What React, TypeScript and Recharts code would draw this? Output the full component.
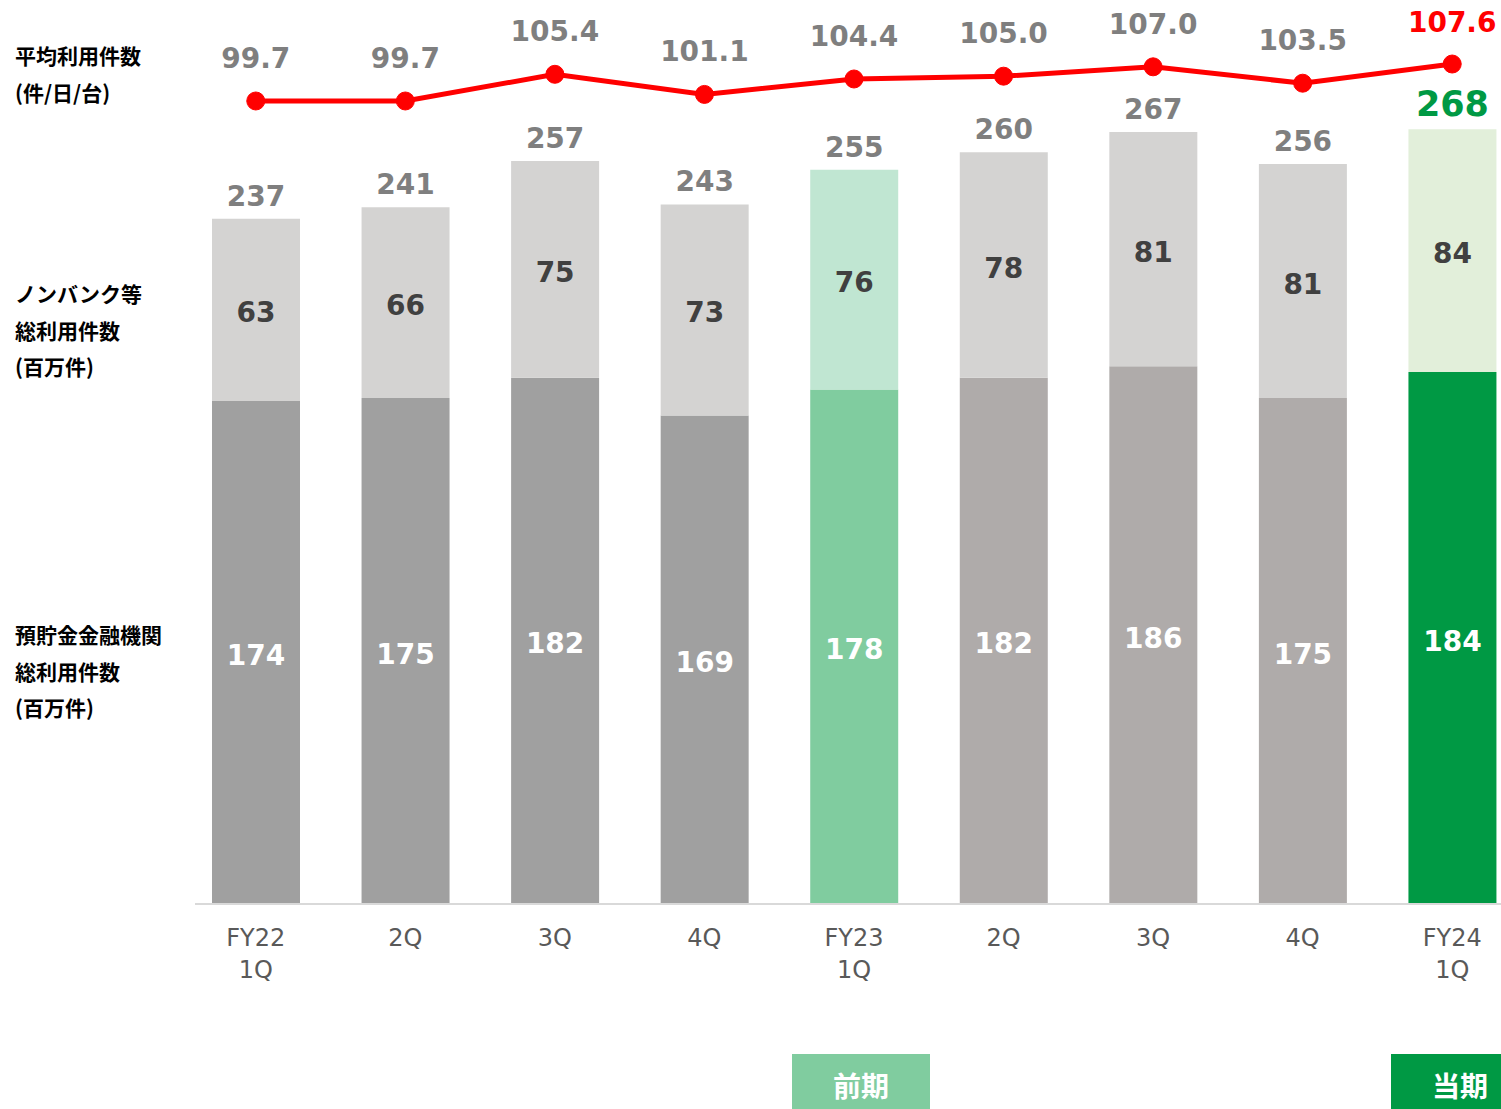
import React from "react";
import { Bar, Cell, ComposedChart, LabelList, Line, XAxis, YAxis } from "recharts";

const categories = ["FY22\n1Q", "2Q", "3Q", "4Q", "FY23\n1Q", "2Q", "3Q", "4Q", "FY24\n1Q"];
const depositCounts = [174, 175, 182, 169, 178, 182, 186, 175, 184];
const nonbankCounts = [63, 66, 75, 73, 76, 78, 81, 81, 84];
const totalCounts = [237, 241, 257, 243, 255, 260, 267, 256, 268];
const avgUsage = [99.7, 99.7, 105.4, 101.1, 104.4, 105.0, 107.0, 103.5, 107.6];

const depositColors = ["#a0a0a0", "#a0a0a0", "#a0a0a0", "#a0a0a0", "#80cc9f", "#afabaa", "#afabaa", "#afabaa", "#009944"];
const nonbankColors = ["#d4d3d2", "#d4d3d2", "#d4d3d2", "#d4d3d2", "#c0e6d2", "#d4d3d2", "#d4d3d2", "#d4d3d2", "#e2efda"];

const data = categories.map((label, i) => ({
  id: i,
  label,
  deposit: depositCounts[i],
  nonbank: nonbankCounts[i],
  total: totalCounts[i],
  usage: avgUsage[i]
}));

const LAST = categories.length - 1;
const FONT = "'DejaVu Sans', Verdana, sans-serif";
const JP = "'Noto Sans CJK JP', sans-serif";

function CategoryTick(props: any) {
  const { x, y, payload } = props;
  const lines = categories[payload.value].split("\n");
  return (
    <text x={x} y={y} textAnchor="middle" fill="#595959" fontSize={24} fontFamily={FONT}>
      {lines.map((l, k) => (
        <tspan key={k} x={x} dy={k === 0 ? 34 : 32}>
          {l}
        </tspan>
      ))}
    </text>
  );
}

function SegmentLabel(color: string) {
  return (props: any) => {
    const { x, y, width, height, value } = props;
    return (
      <text
        x={x + width / 2}
        y={y + height / 2 + 3}
        textAnchor="middle"
        dominantBaseline="central"
        fill={color}
        fontSize={28}
        fontWeight="bold"
        fontFamily={FONT}
      >
        {value}
      </text>
    );
  };
}

function TotalLabel(props: any) {
  const { x, y, width, index } = props;
  const last = index === LAST;
  return (
    <text
      x={x + width / 2}
      y={y - 13}
      textAnchor="middle"
      fill={last ? "#009944" : "#7f7f7f"}
      fontSize={last ? 35 : 28}
      fontWeight="bold"
      fontFamily={FONT}
    >
      {totalCounts[index]}
    </text>
  );
}

function UsageLabel(props: any) {
  const { x, y, index } = props;
  const last = index === LAST;
  return (
    <text
      x={x}
      y={last ? y - 32 : y - 33}
      textAnchor="middle"
      fill={last ? "#ff0000" : "#7f7f7f"}
      fontSize={28}
      fontWeight="bold"
      fontFamily={FONT}
    >
      {avgUsage[index].toFixed(1)}
    </text>
  );
}

const sideLabel: React.CSSProperties = {
  position: "absolute",
  left: 15,
  fontFamily: JP,
  fontWeight: "bold",
  fontSize: 21,
  lineHeight: "36.5px",
  color: "#000"
};

const periodBox: React.CSSProperties = {
  position: "absolute",
  top: 1054,
  height: 55,
  color: "#fff",
  fontFamily: JP,
  fontWeight: "bold",
  fontSize: 28,
  lineHeight: "62px",
  textAlign: "center"
};

export default function App() {
  return (
    <div
      style={{
        position: "absolute",
        left: 0,
        top: 0,
        width: 1501,
        height: 1109,
        overflow: "hidden",
        background: "#fff"
      }}
    >
      <ComposedChart
        width={1540}
        height={1109}
        data={data}
        margin={{ top: 0, right: 13, left: 181, bottom: 145 }}
      >
        <XAxis
          dataKey="id"
          height={60}
          tickLine={false}
          axisLine={{ stroke: "#d9d9d9", strokeWidth: 2 }}
          tick={<CategoryTick />}
          interval={0}
        />
        <YAxis yAxisId="bars" hide width={0} domain={[0, 312.7]} />
        <YAxis yAxisId="line" hide width={0} domain={[-71.9, 121.28]} />
        <Bar dataKey="deposit" stackId="a" yAxisId="bars" barSize={88} isAnimationActive={false}>
          {data.map((d) => (
            <Cell key={d.id} fill={depositColors[d.id]} />
          ))}
          <LabelList dataKey="deposit" content={SegmentLabel("#ffffff")} />
        </Bar>
        <Bar dataKey="nonbank" stackId="a" yAxisId="bars" barSize={88} isAnimationActive={false}>
          {data.map((d) => (
            <Cell key={d.id} fill={nonbankColors[d.id]} />
          ))}
          <LabelList dataKey="nonbank" content={SegmentLabel("#404040")} />
          <LabelList dataKey="total" content={TotalLabel} />
        </Bar>
        <Line
          dataKey="usage"
          yAxisId="line"
          stroke="#ff0000"
          strokeWidth={5}
          dot={{ r: 9, fill: "#ff0000", stroke: "#ff0000", strokeWidth: 1 }}
          isAnimationActive={false}
        >
          <LabelList dataKey="usage" content={UsageLabel} />
        </Line>
      </ComposedChart>

      {/* axis line in the original starts a little right of the band edge */}
      <div style={{ position: "absolute", left: 175, top: 898, width: 20, height: 12, background: "#fff" }} />

      <div style={{ ...sideLabel, top: 37 }}>
        平均利用件数
        <br />
        (件/日/台)
      </div>
      <div style={{ ...sideLabel, top: 275 }}>
        ノンバンク等
        <br />
        総利用件数
        <br />
        (百万件)
      </div>
      <div style={{ ...sideLabel, top: 616 }}>
        預貯金金融機関
        <br />
        総利用件数
        <br />
        (百万件)
      </div>

      <div style={{ ...periodBox, left: 792, width: 138, background: "#80cc9f" }}>前期</div>
      <div
        style={{
          ...periodBox,
          left: 1391,
          width: 110,
          background: "#009944",
          textAlign: "left",
          paddingLeft: 41,
          boxSizing: "border-box"
        }}
      >
        当期
      </div>
    </div>
  );
}
